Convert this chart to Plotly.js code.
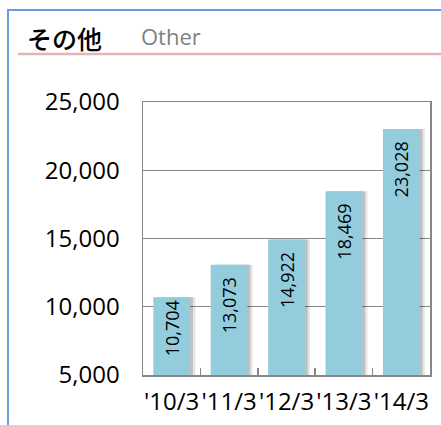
<!DOCTYPE html>
<html>
<head>
<meta charset="utf-8">
<script src="https://cdn.plot.ly/plotly-3.0.1.min.js"></script>
<style>
html,body{margin:0;padding:0;background:#fff;}
#chart{width:441px;height:425px;}
</style>
</head>
<body>
<div id="chart"></div>
<script>
// Data
var categories = ["'10/3", "'11/3", "'12/3", "'13/3", "'14/3"];
var values = [10704, 13073, 14922, 18469, 23028];
var valueLabels = ["10,704", "13,073", "14,922", "18,469", "23,028"];
var titleJa = "その他";
var titleEn = "Other";

// Layout geometry (pixels)
var W = 441, H = 425;
var L = 143, R = 11, T = 102, B = 50;
var pw = W - L - R, ph = H - T - B;
function px(x){ return (x - L) / pw; }
function py(y){ return (H - B - y) / ph; }

var barColor = "#93CDDD";
var barWidth = 0.64;
var pad = "\u00a0\u00a0";

var shadow1 = {
  type: "bar", x: categories, y: values,
  width: barWidth, offset: -barWidth/2 + 0.09,
  marker: {color: "rgba(0,0,0,0.10)"},
  hoverinfo: "skip", showlegend: false
};
var shadow2 = {
  type: "bar", x: categories, y: values,
  width: barWidth, offset: -barWidth/2 + 0.05,
  marker: {color: "rgba(0,0,0,0.16)"},
  hoverinfo: "skip", showlegend: false
};
var bars = {
  type: "bar", x: categories, y: values,
  width: barWidth, offset: -barWidth/2,
  marker: {color: barColor, line: {width: 0}},
  text: valueLabels.map(function(s, i){ return i === 0 ? s : s + pad; }),
  textposition: "inside",
  insidetextanchor: "end",
  textangle: -90,
  textfont: {family: "Open Sans", size: 18, color: "#000"},
  showlegend: false
};

var layout = {
  width: W, height: H,
  margin: {l: L, r: R, t: T, b: B, pad: 0},
  paper_bgcolor: "#fff", plot_bgcolor: "#fff",
  barmode: "overlay",
  font: {family: "Open Sans", color: "#000"},
  xaxis: {
    type: "category",
    showline: true, linecolor: "#868686", linewidth: 1.5, mirror: true,
    ticks: "inside", tickson: "boundaries", ticklen: 7, tickcolor: "#868686", tickwidth: 1.5,
    tickfont: {family: "Open Sans", size: 24, color: "#000"},
    tickangle: 0,
    ticklabelstandoff: 5,
    showgrid: false, zeroline: false, fixedrange: true
  },
  yaxis: {
    range: [5000, 25000], dtick: 5000, tick0: 5000,
    tickformat: ",d",
    showline: true, linecolor: "#868686", linewidth: 1.5, mirror: true,
    ticks: "",
    tickfont: {family: "Open Sans", size: 24, color: "#000"},
    ticklabelstandoff: 17,
    showgrid: true, gridcolor: "#878787", gridwidth: 1,
    zeroline: false, fixedrange: true
  },
  annotations: [
    {text: titleJa, xref: "paper", yref: "paper", x: px(25), y: py(58),
     xanchor: "left", yanchor: "bottom", showarrow: false,
     font: {family: "Noto Sans CJK JP", size: 25, color: "#000", weight: 500}},
    {text: titleEn, xref: "paper", yref: "paper", x: px(139), y: py(53),
     xanchor: "left", yanchor: "bottom", showarrow: false,
     font: {family: "Open Sans", size: 22, color: "#808080"}}
  ],
  shapes: [
    {type: "line", xref: "paper", yref: "paper", x0: px(18), x1: px(441), y0: py(54), y1: py(54),
     line: {color: "#E3B6B5", width: 2.5}},
    {type: "line", xref: "paper", yref: "paper", x0: px(8), x1: px(8), y0: py(10), y1: py(425),
     line: {color: "#6A9DDD", width: 2}},
    {type: "line", xref: "paper", yref: "paper", x0: px(7), x1: px(441), y0: py(10), y1: py(10),
     line: {color: "#6A9DDD", width: 2}}
  ]
};

Plotly.newPlot("chart", [shadow1, shadow2, bars], layout, {displayModeBar: false, staticPlot: true});
</script>
</body>
</html>
